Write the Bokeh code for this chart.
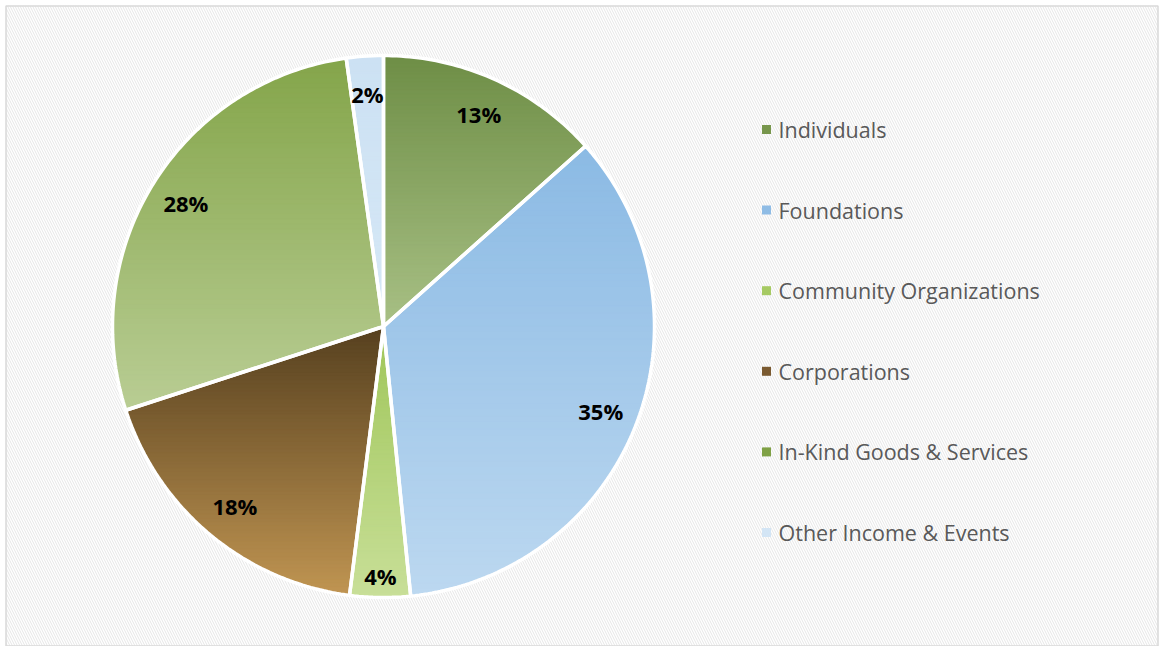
import numpy as np
from bokeh.plotting import figure
from bokeh.models import Range1d
from bokeh.core.properties import value
from bokeh.embed import file_html
from bokeh.resources import INLINE

# ---- data ----
categories = ["Individuals", "Foundations", "Community Organizations",
              "Corporations", "In-Kind Goods & Services", "Other Income & Events"]
shares = [13.4, 35.0, 3.6, 18.0, 27.8, 2.2]
labels = ["13%", "35%", "4%", "18%", "28%", "2%"]
top_colors = ["#6E8E46", "#8BBAE4", "#A0C65A", "#56401F", "#84A54A", "#CCE1F3"]
bottom_colors = ["#A8C085", "#BCD8F0", "#C8DF98", "#C09552", "#B9CD94", "#D6E8F6"]
legend_colors = ["#77964C", "#8FBCE5", "#A6CA63", "#7A5A30", "#7FA145", "#D3E5F5"]

# ---- layout (page pixels -> data units) ----
W, H = 1160, 646
PAGE_H = 647
def py(y):  # page y -> data y
    return PAGE_H - y

CX, CY, R = 383, py(326), 271

p = figure(width=W, height=H, output_backend="svg", toolbar_location=None,
           x_range=Range1d(0, W), y_range=Range1d(PAGE_H - H, PAGE_H),
           min_border=0)
p.axis.visible = False
p.grid.visible = False
p.background_fill_color = "white"
p.border_fill_color = "white"
p.outline_line_color = None

# hatched background with light border
p.quad(left=5.5, right=1157.5, bottom=py(645.5), top=py(5.5),
       fill_color="white", hatch_pattern="\\", hatch_color="#E6E6E6",
       hatch_scale=5, hatch_weight=1, line_color="#D9D9D9", line_width=1.5)

def hex2rgb(h):
    h = h.lstrip("#")
    return np.array([int(h[i:i + 2], 16) for i in (0, 2, 4)], dtype=float)

def rgb2hex(c):
    c = np.clip(np.round(c), 0, 255).astype(int)
    return "#%02x%02x%02x" % tuple(c)

def clip_half(poly, a, above):
    out = []
    n = len(poly)
    for i in range(n):
        P, Q = poly[i], poly[(i + 1) % n]
        inP = P[1] >= a if above else P[1] <= a
        inQ = Q[1] >= a if above else Q[1] <= a
        if inP:
            out.append(P)
        if inP != inQ:
            t = (a - P[1]) / (Q[1] - P[1])
            out.append((P[0] + t * (Q[0] - P[0]), a))
    return out

fracs = np.array(shares) / sum(shares)
cum = np.concatenate([[0], np.cumsum(fracs)])

strip_xs, strip_ys, strip_cols = [], [], []
slice_xs, slice_ys = [], []
NSTRIP = 70
for i in range(len(categories)):
    c0, c1 = cum[i], cum[i + 1]
    npts = max(8, int(400 * (c1 - c0)))
    t = np.linspace(c0, c1, npts)
    ang = np.pi / 2 - 2 * np.pi * t
    xs = np.concatenate([[CX], CX + R * np.cos(ang)])
    ys = np.concatenate([[CY], CY + R * np.sin(ang)])
    slice_xs.append(list(xs))
    slice_ys.append(list(ys))
    poly = list(zip(xs, ys))
    ytop, ybot = ys.max(), ys.min()
    ctop, cbot = hex2rgb(top_colors[i]), hex2rgb(bottom_colors[i])
    edges = np.linspace(ytop, ybot, NSTRIP + 1)
    for k in range(NSTRIP):
        hi, lo = edges[k] + 0.4, edges[k + 1] - 0.4
        q = clip_half(poly, hi, above=False)
        if len(q) < 3:
            continue
        q = clip_half(q, lo, above=True)
        if len(q) < 3:
            continue
        f = (k + 0.5) / NSTRIP
        col = rgb2hex(ctop + (cbot - ctop) * f)
        strip_xs.append([pt[0] for pt in q])
        strip_ys.append([pt[1] for pt in q])
        strip_cols.append(col)

p.patches(strip_xs, strip_ys, fill_color=strip_cols, line_color=strip_cols, line_width=0.5)
p.patches(slice_xs, slice_ys, fill_alpha=0, line_color="white", line_width=3.5)

# data labels
mids = (cum[:-1] + cum[1:]) / 2
lr = np.array([0.92 if 3 < s < 5 else 0.86 for s in shares]) * R
lx = CX + lr * np.cos(np.pi / 2 - 2 * np.pi * mids)
ly = CY + lr * np.sin(np.pi / 2 - 2 * np.pi * mids)
p.text(x=list(lx), y=list(ly), text=labels, text_align="center", text_baseline="middle",
       text_font=value("Open Sans"), text_font_style="bold", text_font_size="22px",
       text_color="black")

# legend
LX, LY0, LDY = 766, 129, 80.6
leg_y = [py(LY0 + LDY * i) for i in range(len(categories))]
p.rect(x=[LX] * len(categories), y=leg_y, width=9, height=9,
       fill_color=legend_colors, line_alpha=0)
p.text(x=[LX + 12] * len(categories), y=leg_y, text=categories,
       text_align="left", text_baseline="middle",
       text_font=value("Open Sans"), text_font_size="21.5px", text_color="#595959")

open("out.html", "w").write(file_html(p, INLINE))
